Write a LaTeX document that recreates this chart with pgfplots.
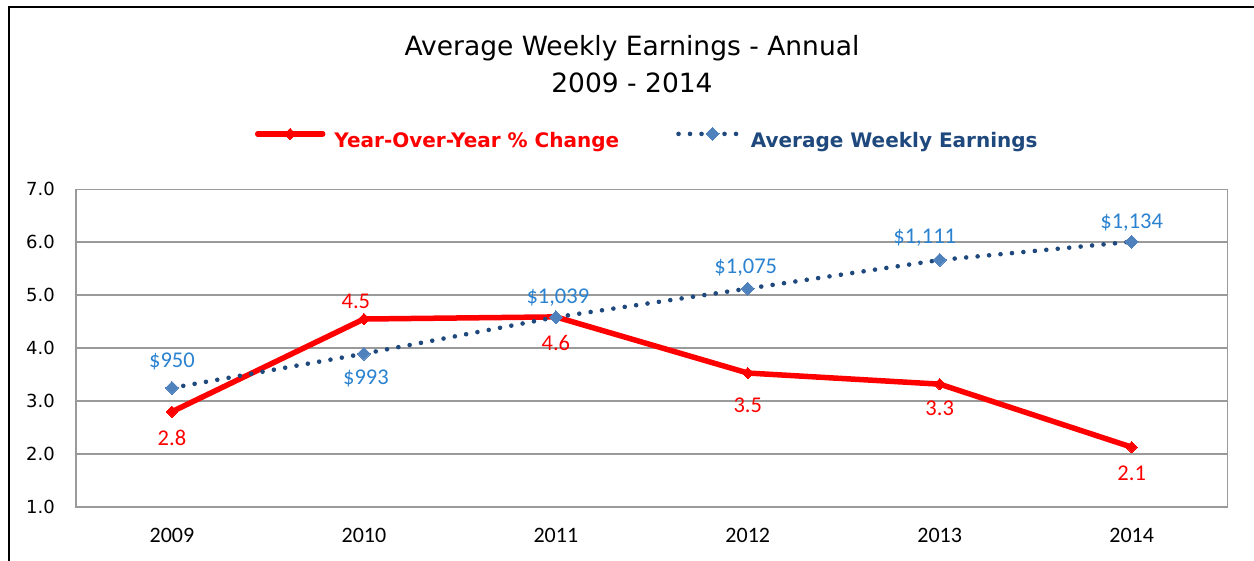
\documentclass[border=0pt]{standalone}
\usepackage{pgfplots}
\pgfplotsset{compat=1.18}
\usepackage{pgfplotstable}
\usepackage{fontspec}
\setmainfont{DejaVu Sans}
\newfontfamily\lblfont{Carlito}
\definecolor{gridgray}{HTML}{9A9A9A}
\definecolor{aweline}{HTML}{1F497D}
\definecolor{awemark}{HTML}{4F81BD}
\definecolor{awelabel}{HTML}{2A82D0}
\definecolor{yoyred}{HTML}{FF0000}

\pgfplotsset{
  redimg/.style={legend image code/.code={\draw[##1, mark repeat=2, mark phase=2] plot coordinates {(0pt,7pt) (32.5pt,7pt) (65pt,7pt)};}},
  blueimg/.style={legend image code/.code={\draw[##1, mark repeat=2, mark phase=2] plot coordinates {(0pt,7pt) (34pt,7pt) (59pt,7pt)}; \path (61pt,7pt);}},
}

\pgfplotstableread{
x y lbl dx dy
0 2.80 2.8 0 -26
1 4.55 4.5 -8 18
2 4.59 4.6 0 -26
3 3.53 3.5 0 -32
4 3.32 3.3 0 -24
5 2.13 2.1 0 -26
}\yoy

\pgfplotstableread{
x y lbl dx dy
0 950 950 0 26
1 993 993 2 -25
2 1039 1,039 2 20
3 1075 1,075 -2 21
4 1111 1,111 -15 22
5 1134 1,134 0 19
}\awe

\begin{document}
\begin{tikzpicture}
\useasboundingbox (-76pt,-54pt) rectangle (1178pt,507pt);
\draw[line width=2pt, black] (-67pt,-60pt) -- (-67pt,500pt) -- (1190pt,500pt);

\begin{axis}[
  at={(0pt,0pt)}, anchor=south west,
  width=1151.7pt, height=317.7pt, scale only axis,
  xmin=-0.5, xmax=5.5, ymin=1, ymax=7,
  xtick={0,1,2,3,4,5},
  xticklabels={2009,2010,2011,2012,2013,2014},
  ytick={1,2,3,4,5,6,7},
  yticklabel={\pgfmathprintnumber[fixed,fixed zerofill,precision=1,assume math mode=true]{\tick}},
  major tick length=0pt,
  ymajorgrids,
  grid style={gridgray, line width=1.5pt},
  axis line style={gridgray, line width=1.5pt},
  yticklabel style={font=\fontsize{18}{20}\selectfont, anchor=east, inner sep=0pt, xshift=-21pt},
  xticklabel style={font=\lblfont\fontsize{22}{24}\selectfont, anchor=center, inner sep=0pt, yshift=-28pt},
  clip=false,
  legend columns=2,
  legend style={draw=none, fill=none, inner sep=0pt, outer sep=0pt,
    at={(axis description cs:0.1554,1.1604)}, anchor=west,
    nodes={inner sep=0pt},
    font=\bfseries\fontsize{20}{22}\selectfont,
    /tikz/every odd column/.append style={column sep=9pt},
    /tikz/every even column/.append style={column sep=57pt}},
]
\addplot[yoyred, line width=5.5pt, line join=round, line cap=round,
  mark=square*, mark options={rotate=45, solid, fill=yoyred, draw=yoyred, line width=0pt}, mark size=4pt,
  redimg,
  point meta=explicit symbolic,
  visualization depends on={\thisrow{dx} \as \ldx},
  visualization depends on={\thisrow{dy} \as \ldy},
  nodes near coords={\pgfplotspointmeta},
  every node near coord/.append style={anchor=center, inner sep=0pt, xshift=\ldx pt, yshift=\ldy pt, text=yoyred, font=\lblfont\fontsize{22.5}{24}\selectfont},
] table[x=x, y=y, meta=lbl] {\yoy};
\addlegendentry{\textcolor{yoyred}{Year-Over-Year \% Change}}
\addlegendimage{aweline, line width=4.6pt, line cap=round, dash pattern=on 0pt off 11.5pt,
  mark=square*, mark options={rotate=45, solid, fill=awemark, draw=awemark, line width=0pt}, mark size=4.6pt,
  blueimg}
\addlegendentry{\textcolor{aweline}{Average Weekly Earnings}}
\end{axis}

\begin{axis}[
  at={(0pt,0pt)}, anchor=south west,
  width=1151.7pt, height=317.7pt, scale only axis,
  xmin=-0.5, xmax=5.5, ymin=800, ymax=1200,
  hide axis, clip=false,
]
\addplot[aweline, line width=4.6pt, line cap=round, dash pattern=on 0pt off 11.5pt,
  mark=square*, mark options={rotate=45, solid, fill=awemark, draw=awemark, line width=0pt}, mark size=4.6pt,
  point meta=explicit symbolic,
  visualization depends on={\thisrow{dx} \as \ldx},
  visualization depends on={\thisrow{dy} \as \ldy},
  nodes near coords={\$\pgfplotspointmeta},
  every node near coord/.append style={anchor=center, inner sep=0pt, xshift=\ldx pt, yshift=\ldy pt, text=awelabel, font=\lblfont\fontsize{22.5}{24}\selectfont},
] table[x=x, y=y, meta=lbl] {\awe};
\end{axis}

\node[anchor=base, inner sep=0pt, font=\fontsize{26.5}{30}\selectfont] at (556pt,451pt) {Average Weekly Earnings - Annual};
\node[anchor=base, inner sep=0pt, font=\fontsize{26.5}{30}\selectfont] at (556pt,414.3pt) {2009 - 2014};
\end{tikzpicture}
\end{document}
